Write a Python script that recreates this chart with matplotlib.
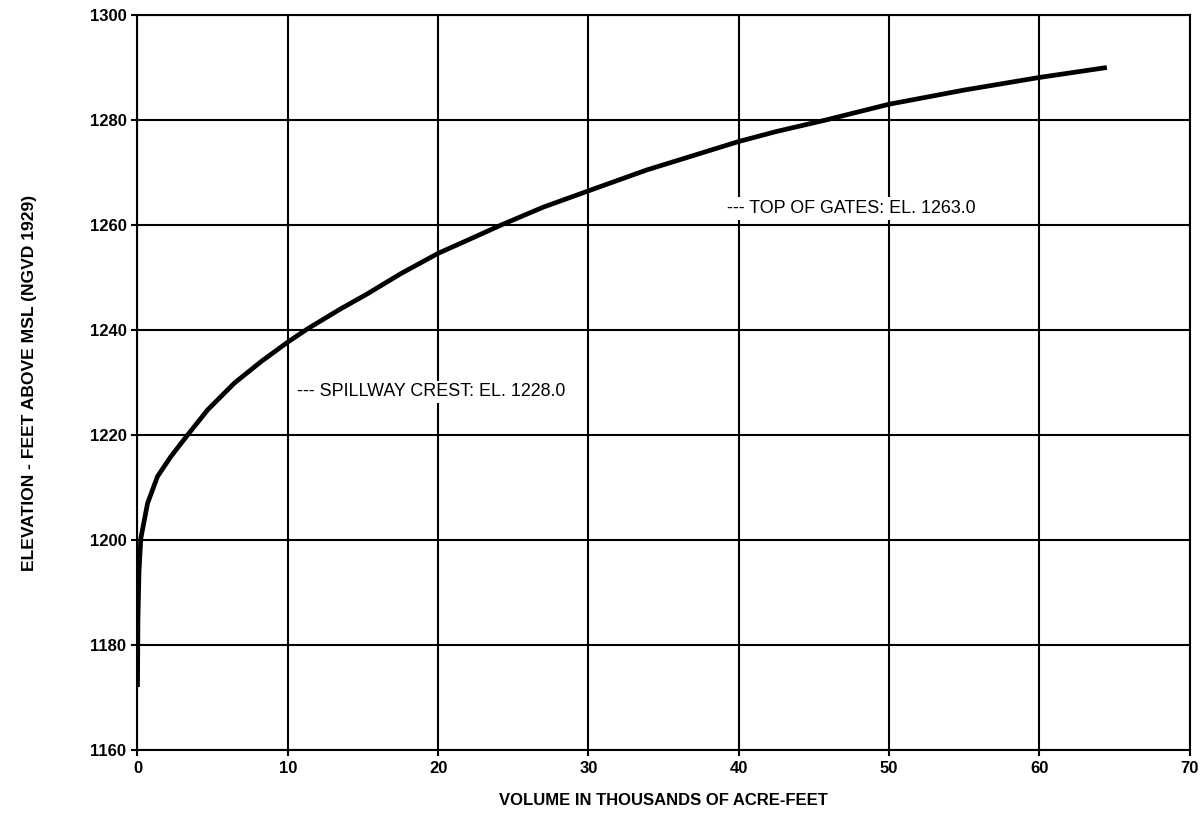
import matplotlib
matplotlib.use('Agg')
from matplotlib import pyplot as plt

# elevation-storage curve
volume = [0, 0.03, 0.1, 0.22, 0.67, 1.33, 2.22, 3.33, 4.67, 6.45, 8.23, 10.0, 11.3,
          13.5, 15.3, 17.5, 20.0, 21.8, 24.2, 27.0, 30.0, 33.9, 36.5, 40.0, 42.5,
          45.8, 50.0, 55.0, 60.0, 64.5]
elevation = [1172, 1185, 1194, 1200.3, 1207.0, 1212.1, 1215.9, 1220.0, 1224.8, 1229.9,
             1234.0, 1237.7, 1240.2, 1244.0, 1246.9, 1250.7, 1254.6, 1256.9, 1260.0,
             1263.4, 1266.5, 1270.5, 1272.8, 1275.9, 1277.8, 1280.0, 1283.0, 1285.7,
             1288.1, 1290.0]

notes = ['--- SPILLWAY CREST: EL. 1228.0', '--- TOP OF GATES: EL. 1263.0']
note_x = [10.6, 39.2]
note_y = [1228.2, 1263.2]

plt.rcParams['font.family'] = ['Liberation Sans', 'DejaVu Sans']

fig = plt.figure(figsize=(12.04, 8.19), dpi=100)
ax = fig.add_axes([0.1142, 0.0842, 0.8738, 0.8975])

ax.set_xlim(0, 70)
ax.set_ylim(1160, 1300)
ax.set_xticks(range(0, 71, 10))
ax.set_yticks(range(1160, 1301, 20))
ax.grid(True, color='black', linewidth=1.5)
ax.set_axisbelow(True)
for s in ax.spines.values():
    s.set_linewidth(1.5)
ax.tick_params(direction='out', length=4, width=1.5, labelsize=12, pad=4)
for lab in ax.get_xticklabels() + ax.get_yticklabels():
    lab.set_fontweight('bold')

ax.plot(volume, elevation, color='black', linewidth=3.4, solid_capstyle='butt',
        solid_joinstyle='round', zorder=3)

for txt, x, y in zip(notes, note_x, note_y):
    ax.text(x, y, txt, fontsize=12.9, ha='left', va='center', zorder=4,
            bbox=dict(facecolor='white', edgecolor='none', pad=2))

ax.set_xlabel('VOLUME IN THOUSANDS OF ACRE-FEET', fontsize=12, fontweight='bold', labelpad=12)
ax.set_ylabel('ELEVATION - FEET ABOVE MSL (NGVD 1929)', fontsize=12.6, fontweight='bold', labelpad=38)

fig.savefig('out.png', dpi=100)
